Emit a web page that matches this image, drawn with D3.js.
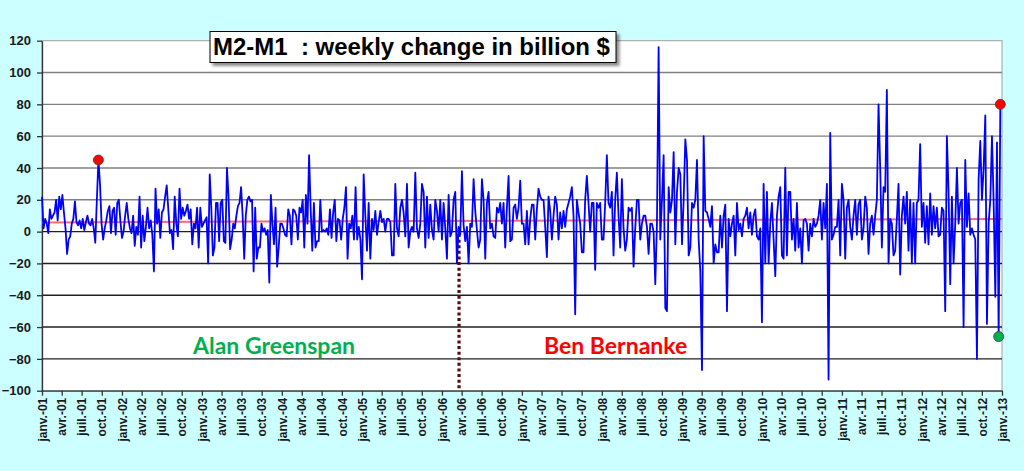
<!DOCTYPE html>
<html>
<head>
<meta charset="utf-8">
<script src="https://cdn.jsdelivr.net/npm/d3@7"></script>
<style>
  html, body { margin: 0; padding: 0; background: #ccffff; }
  svg { display: block; }
</style>
</head>
<body>
<div id="chart"></div>
<script>
// weekly change of M2-M1, billion $
const y2001 = [22, 2, 8, 5, -1, 14, 8, 10, 12, 20, 7, 22, 14, 23, 12, 2, -14, -5, -3, 5, 8, 19, 6, 4, 7, 2, 8, 1, 6, 10, 5, 4, 8, 2, -7, 20, 45, 30, 5, -5, 2, 7, 13, 16, -1, 13, 15, -2, 18, 20, 7];
const y2002 = [-4, 0, 10, 18, 8, 2, -1, 10, -9, 3, -2, 22, -10, 10, -6, 3, 15, 2, 7, -2, -25, 27, 5, 14, -4, 12, 14, 22, 29, 14, -1, 1, -11, 22, 5, -3, 27, 8, 15, 10, 13, 17, 8, 14, -8, 5, 2, 15, -10, 15];
const y2003 = [3, 5, 7, 9, -20, 36, 15, -15, -10, 18, 18, -6, 18, 20, -6, -7, 40, 22, -11, -5, 5, 2, 10, 16, 18, 28, 10, -17, 10, 20, 22, 19, 20, -25, 15, -17, -10, -10, 5, 0, 2, -2, 1, -32, 23, 5, -8, 15, -22, -10, 5];
const y2004 = [5, 2, -2, -3, 14, 10, -8, 14, 13, 10, -5, 15, 12, 20, -10, 23, 5, 48, 14, -12, 18, -10, -6, -6, 20, 0, 1, 0, 2, -2, 14, -4, 12, 20, -6, 8, 7, -5, 8, 15, 28, -17, 5, 2, 10, -5, 28, -5, 3, -5];
const y2005 = [-30, 36, 10, -12, 18, -17, 8, 1, 13, -2, 6, 13, 6, 8, 0, 8, 8, 6, -15, -15, 30, 2, -3, 15, 20, 12, -3, 30, -10, 0, 3, 0, 37, 2, -4, 5, 30, 25, -10, 22, -4, 17, 1, -5, 20, 13, 0, 20];
const y2006 = [-5, 18, 2, -17, 23, -3, 0, 20, 25, -20, 3, -2, 38, 4, -6, 3, -20, 5, 3, 33, 13, 1, -10, -5, 33, 20, -17, 18, 25, 2, 5, -3, -4, 15, 12, 18, 5, 18, -10, 15, 35, -6, -5, 15, 17, 8, 15, 32];
const y2007 = [5, 5, -8, 13, -8, 8, 17, 17, -5, 14, 27, 22, 20, 20, 3, -16, 22, 13, -5, 10, 22, 17, -5, 12, 2, 13, 3, 14, 18, 22, 28, 10, -52, 20, 12, 5, -13, -13, 20, 35, 18, 0, 18, 18, -24, 18, 15, 18];
const y2008 = [-5, -5, 18, 48, 18, 15, 25, -15, 20, 37, 10, -10, 33, 2, -12, -5, 15, 13, 15, -22, 2, 20, 20, -5, 5, 10, 10, 3, -14, 5, 5, 0, -33, 5, 116, -5, 20, 48, -48, -50, 28, 12, 20, 50, -8, 25, 40, 36];
const y2009 = [-8, 20, 58, 45, -15, -10, 18, 15, 20, 45, -5, -25, -87, 60, 13, 12, 8, 3, 16, -20, -8, -13, -13, 10, -10, 10, 17, -50, 8, -3, 5, 10, -15, 18, 1, 5, -3, 8, 10, 15, 2, 12, -2, 10, 14, -3, -5, 2];
const y2010 = [-57, 30, -20, 25, -20, 5, 18, -5, -28, 10, 22, 28, -15, -17, 40, -15, 25, 25, -5, 8, -12, 18, -10, 2, -20, 7, 8, 5, -12, 5, -3, 8, 3, 5, 10, 20, -5, 18, 2, 30, -93, 62, -5, -2, 3, 3, 20, -15];
const y2011 = [30, 20, -17, 15, 20, 3, -5, 10, 20, -2, 17, 20, -5, 2, 22, 15, -14, 5, 10, -2, 10, 20, 80, 40, -10, 28, 25, 89, -20, 8, 5, -15, -12, 8, 30, -27, 10, 22, 5, 25, -12, 20, -20, 18, -20, 18, 20, 55];
const y2012 = [3, 18, -7, 16, -8, 24, -2, 16, 2, 15, -3, -2, 15, 13, -50, 60, 25, -33, 22, -20, 5, 40, 5, 18, 20, -60, 45, 3, 24, -2, 2, -2, -5, -80, 33, 57, 20, 40, 73, -58, 5, 20, 60, 18, -41, 56, -66, 80];

const years = [2001, 2002, 2003, 2004, 2005, 2006, 2007, 2008, 2009, 2010, 2011, 2012];
const yearValues = [y2001, y2002, y2003, y2004, y2005, y2006, y2007, y2008, y2009, y2010, y2011, y2012];

// red average/trend line, start and end levels
const trendStart = 5.8;
const trendEnd = 8;

const monthLabels = ['janv.', 'avr.', 'juil.', 'oct.'];
const yTicks = [-100, -80, -60, -40, -20, 0, 20, 40, 60, 80, 100, 120];

const titleText = 'M2-M1  : weekly change in billion $';
const bernankeDate = new Date(2006, 2, 20);

// build the weekly series: values spread evenly through each year
const series = [];
years.forEach((yr, k) => {
    const vals = yearValues[k];
    const start = new Date(yr, 0, 1).getTime();
    const end = new Date(yr + 1, 0, 1).getTime();
    vals.forEach((v, i) => {
        series.push({ date: new Date(start + (end - start) * i / vals.length), value: v });
    });
});

const W = 1024, H = 471;
const margin = { top: 40.7, right: 22, bottom: 80.3, left: 42 };

const svg = d3.select('#chart').append('svg')
    .attr('width', W)
    .attr('height', H);

svg.append('rect')
    .attr('width', W).attr('height', H)
    .attr('fill', '#ccffff');

const x = d3.scaleTime()
    .domain([new Date(2001, 0, 1), new Date(2013, 0, 1)])
    .range([margin.left, W - margin.right]);

const y = d3.scaleLinear()
    .domain([-100, 120])
    .range([H - margin.bottom, margin.top]);

// plot area
svg.append('rect')
    .attr('x', margin.left)
    .attr('y', margin.top)
    .attr('width', W - margin.left - margin.right)
    .attr('height', H - margin.top - margin.bottom)
    .attr('fill', '#ffffff')
    .attr('stroke', '#a0a0a0')
    .attr('stroke-width', 1);

// grid lines
svg.append('g')
    .selectAll('line')
    .data(yTicks.filter(d => d !== -100 && d !== 120))
    .join('line')
    .attr('x1', margin.left)
    .attr('x2', W - margin.right)
    .attr('y1', d => y(d))
    .attr('y2', d => y(d))
    .attr('stroke', d => d > 0 ? '#808080' : '#202020')
    .attr('stroke-width', 1.4);

// Y axis
const yAxis = svg.append('g')
    .attr('transform', `translate(${margin.left},0)`)
    .call(d3.axisLeft(y).tickValues(yTicks).tickSize(5).tickSizeOuter(0).tickPadding(6));
yAxis.select('.domain').attr('stroke', '#333').attr('stroke-width', 1.3);
yAxis.selectAll('line').attr('stroke', '#333').attr('stroke-width', 1.3);
yAxis.selectAll('text')
    .attr('font-family', '"Liberation Sans", Arial, sans-serif')
    .attr('font-weight', 'bold')
    .attr('font-size', '13px')
    .attr('fill', '#1a1a1a');

// X axis
const xAxis = svg.append('g')
    .attr('transform', `translate(0,${H - margin.bottom})`)
    .call(d3.axisBottom(x)
        .ticks(d3.timeMonth.every(3))
        .tickSize(5)
        .tickSizeOuter(0)
        .tickFormat(d => monthLabels[Math.floor(d.getMonth() / 3)] + '-' + d3.timeFormat('%y')(d)));
xAxis.select('.domain').attr('stroke', '#333').attr('stroke-width', 1.3);
xAxis.selectAll('line').attr('stroke', '#333').attr('stroke-width', 1.3);
xAxis.selectAll('text')
    .attr('font-family', '"Liberation Sans", Arial, sans-serif')
    .attr('font-weight', 'bold')
    .attr('font-size', '12px')
    .attr('fill', '#1a1a1a')
    .attr('transform', 'rotate(-90)')
    .attr('y', 0)
    .attr('x', -7)
    .attr('dy', '0.35em')
    .style('text-anchor', 'end');

// trend line (red)
svg.append('line')
    .attr('x1', x(new Date(2001, 0, 1)))
    .attr('x2', x(new Date(2013, 0, 1)))
    .attr('y1', y(trendStart))
    .attr('y2', y(trendEnd))
    .attr('stroke', '#ff6a6a')
    .attr('stroke-width', 2);

// Bernanke dotted line
svg.append('line')
    .attr('x1', x(bernankeDate))
    .attr('x2', x(bernankeDate))
    .attr('y1', y(2))
    .attr('y2', y(-100))
    .attr('stroke', '#5a0a0a')
    .attr('stroke-width', 3.2)
    .attr('stroke-dasharray', '3,2.6');

// data line
const line = d3.line()
    .x(d => x(d.date))
    .y(d => y(d.value));

svg.append('path')
    .datum(series)
    .attr('d', line)
    .attr('fill', 'none')
    .attr('stroke', '#0000ff')
    .attr('stroke-width', 1.8)
    .attr('stroke-linejoin', 'round');

// highlighted points
const first = series.slice(0, y2001.length);
const peak2001 = first.reduce((a, b) => (b.value > a.value ? b : a));
const markers = [
    { point: peak2001, color: '#ff0000' },
    { point: series[series.length - 2], color: '#00b050' },
    { point: series[series.length - 1], color: '#ff0000' }
];
svg.append('g')
    .selectAll('circle')
    .data(markers)
    .join('circle')
    .attr('cx', d => x(d.point.date))
    .attr('cy', d => y(d.point.value))
    .attr('r', 5)
    .attr('fill', d => d.color)
    .attr('stroke', '#404040')
    .attr('stroke-width', 0.8);

// title box with shadow
const defs = svg.append('defs');
const f = defs.append('filter').attr('id', 'shadow').attr('x', '-10%').attr('y', '-30%').attr('width', '130%').attr('height', '180%');
f.append('feDropShadow').attr('dx', 3).attr('dy', 3).attr('stdDeviation', 1.6).attr('flood-color', '#000').attr('flood-opacity', 0.45);

const titleG = svg.append('g');
titleG.append('rect')
    .attr('x', 210)
    .attr('y', 31.5)
    .attr('width', 406)
    .attr('height', 31)
    .attr('fill', '#ffffff')
    .attr('stroke', '#000')
    .attr('stroke-width', 1)
    .attr('filter', 'url(#shadow)');
const title = titleG.append('text')
    .attr('x', 213)
    .attr('y', 54.5)
    .attr('font-family', '"Liberation Sans", Arial, sans-serif')
    .attr('font-weight', 'bold')
    .attr('font-size', '23px')
    .attr('fill', '#000')
    .attr('xml:space', 'preserve')
    .style('white-space', 'pre')
    .text(titleText);
const tw = title.node().getComputedTextLength();
if (tw > 0) title.attr('font-size', (23 * 397 / tw).toFixed(2) + 'px');

// chairmen labels
svg.append('text')
    .attr('x', 193)
    .attr('y', 354)
    .attr('font-family', 'Lato, "Open Sans", sans-serif')
    .attr('font-weight', 'bold')
    .attr('font-size', '23px')
    .attr('fill', '#00b050')
    .text('Alan Greenspan');

svg.append('text')
    .attr('x', 544)
    .attr('y', 354)
    .attr('font-family', 'Lato, "Open Sans", sans-serif')
    .attr('font-weight', 'bold')
    .attr('font-size', '23px')
    .attr('fill', '#ff0000')
    .text('Ben Bernanke');
</script>
</body>
</html>
